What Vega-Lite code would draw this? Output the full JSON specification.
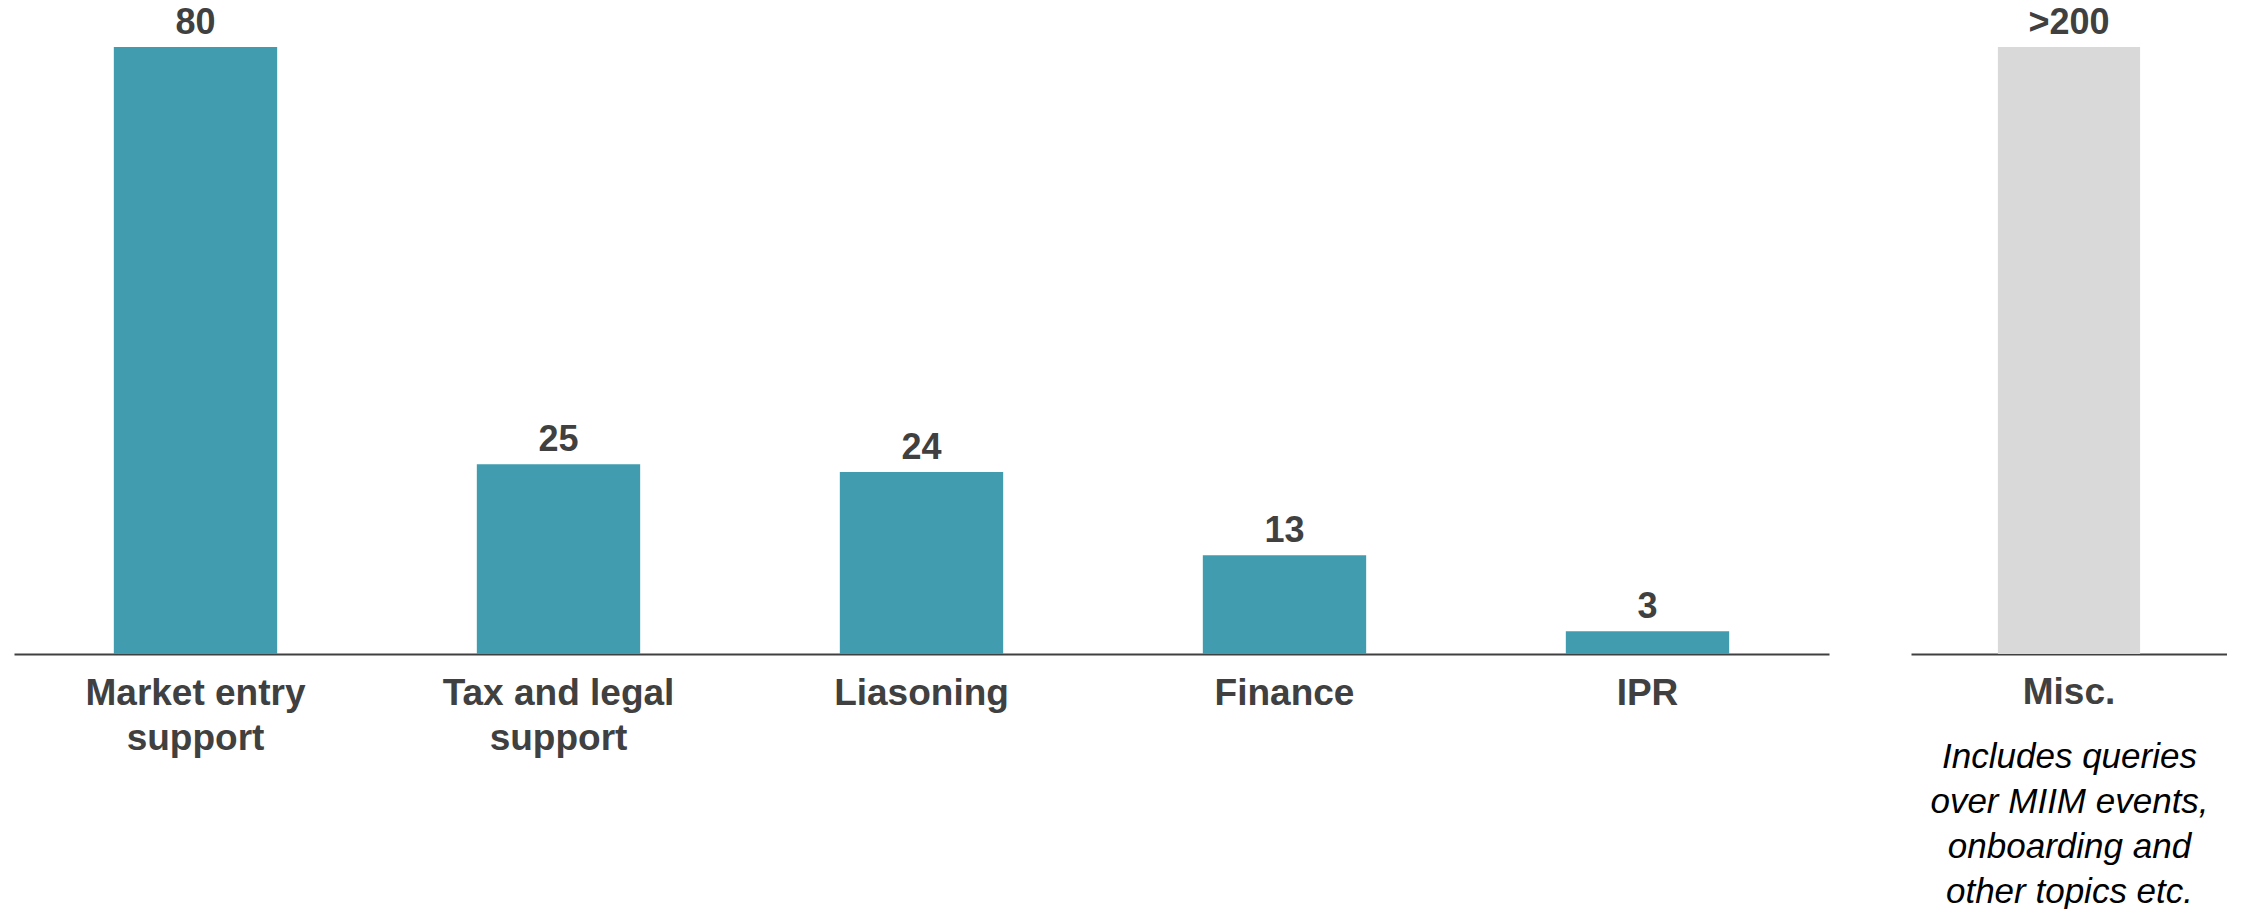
{
  "$schema": "https://vega.github.io/schema/vega-lite/v6.json",
  "padding": {"left": 14, "top": 0, "right": 0, "bottom": 0},
  "background": "white",
  "config": {
    "view": {"stroke": null},
    "font": "Liberation Sans"
  },
  "spacing": 82,
  "hconcat": [
    {
      "width": 1815,
      "height": 654,
      "data": {"values": [
        {"category": "Market entry support", "count": 80, "label": "80"},
        {"category": "Tax and legal support", "count": 25, "label": "25"},
        {"category": "Liasoning", "count": 24, "label": "24"},
        {"category": "Finance", "count": 13, "label": "13"},
        {"category": "IPR", "count": 3, "label": "3"}
      ]},
      "encoding": {
        "x": {
          "field": "category", "type": "nominal", "sort": null,
          "scale": {"paddingInner": 0.55, "paddingOuter": 0.275},
          "axis": {
            "title": null, "ticks": false, "labelAngle": 0,
            "domainColor": "#404040", "domainWidth": 2,
            "labelFont": "Liberation Sans", "labelFontWeight": "bold",
            "labelFontSize": 37, "labelColor": "#404040",
            "labelPadding": 21, "labelLineHeight": 45, "labelLimit": 400,
            "labelExpr": "datum.value == 'Market entry support' ? ['Market entry', 'support'] : datum.value == 'Tax and legal support' ? ['Tax and legal', 'support'] : datum.value"
          }
        },
        "y": {
          "field": "count", "type": "quantitative",
          "scale": {"domain": [0, 86.2], "nice": false, "zero": true},
          "axis": null
        }
      },
      "layer": [
        {"mark": {"type": "bar", "color": "#419CAF"}},
        {"mark": {"type": "text", "dy": -13, "baseline": "alphabetic", "fontSize": 36, "fontWeight": "bold", "color": "#404040", "font": "Liberation Sans"},
         "encoding": {"text": {"field": "label"}}}
      ]
    },
    {
      "width": 316,
      "height": 654,
      "data": {"values": [
        {"category": "Misc.", "count": 200, "label": ">200"}
      ]},
      "encoding": {
        "x": {
          "field": "category", "type": "nominal",
          "scale": {"paddingInner": 0.55, "paddingOuter": 0.275},
          "axis": {
            "ticks": false, "labelAngle": 0,
            "domainColor": "#404040", "domainWidth": 2,
            "labelFont": "Liberation Sans", "labelFontWeight": "bold",
            "labelFontSize": 37, "labelColor": "#404040",
            "labelPadding": 20,
            "title": ["Includes queries", "over MIIM events,", "onboarding and", "other topics etc."],
            "titleFont": "Liberation Sans", "titleFontStyle": "italic", "titleFontWeight": "normal",
            "titleFontSize": 35, "titleColor": "#000000", "titleLineHeight": 45,
            "titlePadding": 29
          }
        },
        "y": {
          "field": "count", "type": "quantitative",
          "scale": {"domain": [0, 215.5], "nice": false, "zero": true},
          "axis": null
        }
      },
      "layer": [
        {"mark": {"type": "bar", "color": "#D9D9D9"}},
        {"mark": {"type": "text", "dy": -13, "baseline": "alphabetic", "fontSize": 36, "fontWeight": "bold", "color": "#404040", "font": "Liberation Sans"},
         "encoding": {"text": {"field": "label"}}}
      ]
    }
  ]
}
